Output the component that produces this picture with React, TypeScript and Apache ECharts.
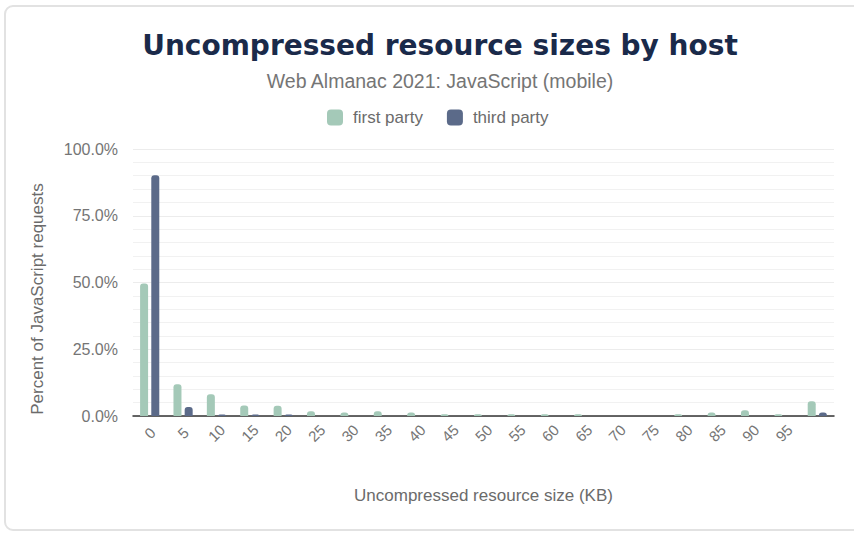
import React, { useEffect, useRef } from "react";
import * as echarts from "echarts";

const categories = ["0", "5", "10", "15", "20", "25", "30", "35", "40", "45", "50", "55", "60", "65", "70", "75", "80", "85", "90", "95", "100+"];
const firstParty = [49.6, 11.9, 8.1, 3.9, 3.8, 1.8, 1.3, 1.8, 1.3, 0.7, 0.7, 0.7, 0.7, 0.7, 0, 0, 0.7, 1.3, 2.2, 0.7, 5.5];
const thirdParty = [90.2, 3.4, 0.6, 0.6, 0.6, 0, 0, 0, 0, 0, 0, 0, 0, 0, 0, 0, 0, 0, 0, 0, 1.3];
const seriesNames = ["first party", "third party"];
const yTicks = [0, 25, 50, 75, 100];

const FONT = "'Liberation Sans', Arial, Helvetica, sans-serif";

export default function App() {
  const ref = useRef<HTMLDivElement>(null);
  useEffect(() => {
    if (!ref.current) return;
    const chart = echarts.init(ref.current, null, { renderer: "svg" });
    chart.setOption({
      animation: false,
      backgroundColor: "#fff",
      textStyle: { fontFamily: FONT },
      graphic: [
        {
          type: "rect",
          shape: { x: 5, y: 6, width: 880, height: 524, r: 8 },
          style: { fill: "none", stroke: "#e2e2e2", lineWidth: 2 },
          silent: true,
          z: -1,
        },
        {
          type: "text",
          x: 37,
          y: 299,
          rotation: Math.PI / 2,
          style: {
            text: "Percent of JavaScript requests",
            fontFamily: FONT,
            fontSize: 17,
            fill: "#6b6b6b",
            align: "center",
            verticalAlign: "middle",
          },
        },
      ],
      title: [
        {
          text: "Uncompressed resource sizes by host",
          left: 435,
          textAlign: "center",
          top: 26,
          textStyle: { fontFamily: "'DejaVu Sans', sans-serif", fontWeight: "bold", fontSize: 28, color: "#1a2a4a" },
        },
        {
          text: "Web Almanac 2021: JavaScript (mobile)",
          left: 435,
          textAlign: "center",
          top: 66,
          textStyle: { fontFamily: FONT, fontWeight: "normal", fontSize: 19.5, color: "#757575" },
        },
      ],
      legend: {
        top: 104,
        left: 322,
        itemWidth: 16,
        itemHeight: 16,
        itemGap: 24,
        icon: "roundRect",
        data: seriesNames,
        textStyle: { fontFamily: FONT, fontSize: 17, color: "#6b6b6b", padding: [0, 0, 0, 5] },
      },
      grid: { left: 133, right: 20, top: 149, bottom: 117, containLabel: false },
      xAxis: {
        type: "category",
        data: categories,
        name: "Uncompressed resource size (KB)",
        nameLocation: "middle",
        nameGap: 71,
        nameTextStyle: { fontFamily: FONT, fontSize: 17, color: "#6b6b6b" },
        axisTick: { show: false },
        axisLine: { lineStyle: { color: "#333", width: 1.5 } },
        axisLabel: {
          rotate: 45,
          interval: 0,
          margin: 17,
          align: "center",
          verticalAlign: "middle",
          fontSize: 15,
          color: "#757575",
          fontFamily: FONT,
          formatter: (v: string, i: number) => (i === categories.length - 1 ? "" : v),
        },
      },
      yAxis: {
        type: "value",
        min: yTicks[0],
        max: yTicks[yTicks.length - 1],
        interval: 25,
        axisLine: { show: false },
        axisTick: { show: false },
        axisLabel: {
          margin: 15,
          fontSize: 16,
          color: "#757575",
          fontFamily: FONT,
          formatter: (v: number) => v.toFixed(1) + "%",
        },
        splitLine: { lineStyle: { color: "#ececec", width: 1 } },
        minorTick: { show: false, splitNumber: 5 },
        minorSplitLine: { show: true, lineStyle: { color: "#f1f1f1", width: 1 } },
      },
      series: [
        {
          name: seriesNames[0],
          type: "bar",
          data: firstParty,
          barWidth: 8,
          barGap: "40%",
          itemStyle: { color: "#a4c9b8", borderRadius: [3, 3, 0, 0] },
        },
        {
          name: seriesNames[1],
          type: "bar",
          data: thirdParty,
          barWidth: 8,
          barGap: "40%",
          itemStyle: { color: "#5b6a89", borderRadius: [3, 3, 0, 0] },
        },
      ],
    });
    return () => chart.dispose();
  }, []);
  return <div ref={ref} style={{ position: "fixed", left: 0, top: 0, width: 854, height: 533 }} />;
}
